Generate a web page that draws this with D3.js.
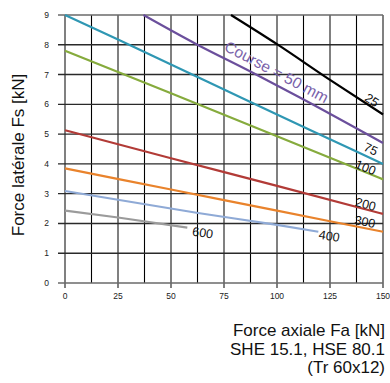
<!DOCTYPE html>
<html><head><meta charset="utf-8">
<script src="https://cdn.jsdelivr.net/npm/d3@7"></script>
<style>
html,body{margin:0;padding:0;background:#fff;}
svg{display:block;font-family:"Liberation Sans",Arial,sans-serif;}
</style></head>
<body><svg id="c" width="390" height="383"></svg>
<script>
// ---- data ----
const xTicks = [0, 25, 50, 75, 100, 125, 150];
const yTicks = [0, 1, 2, 3, 4, 5, 6, 7, 8, 9];
const strokes = ["25", "50", "75", "100", "200", "300", "400", "600"];
const colors = ["#000000", "#6b4f9c", "#2f97b3", "#86ab3d", "#b23b37", "#e9832c", "#8faad6", "#9b9b9b"];
const x25 = [78.3, 100, 125, 150],          y25 = [9, 8.02, 6.82, 5.66];
const x50 = [37, 62, 87, 111, 150],         y50 = [9, 8.02, 7.12, 6.22, 4.7];
const x75 = [0, 25, 50, 75, 100, 125, 150], y75 = [9, 8.18, 7.34, 6.5, 5.66, 4.83, 4.0];
const x100 = [0, 50, 100, 150],             y100 = [7.8, 6.37, 4.93, 3.48];
const x200 = [0, 50, 100, 150],             y200 = [5.13, 4.19, 3.26, 2.32];
const x300 = [0, 50, 100, 150],             y300 = [3.85, 3.14, 2.43, 1.72];
const x400 = [0, 62, 100, 119.5],           y400 = [3.09, 2.36, 1.95, 1.72];
const x600 = [0, 25, 57.7],                 y600 = [2.43, 2.2, 1.86];
const labelText = ["25", "Course = 50 mm", "75", "100", "200", "300", "400", "600"];
const labelX = [144.8, 99.8, 144.3, 141.8, 141.8, 141.5, 124.7, 65];
const labelY = [6.14, 7.09, 4.5, 3.88, 2.65, 2.06, 1.58, 1.69];
const xTitle = ["Force axiale Fa [kN]", "SHE 15.1, HSE 80.1", "(Tr 60x12)"];
const yTitle = "Force latérale Fs [kN]";

// ---- chart ----
const seriesX = [x25, x50, x75, x100, x200, x300, x400, x600];
const seriesY = [y25, y50, y75, y100, y200, y300, y400, y600];
const svg = d3.select("#c");
const x = d3.scaleLinear().domain([0, 150]).range([65, 383]);
const y = d3.scaleLinear().domain([0, 9]).range([283, 15]);

const g = svg.append("g");
// vertical grid
const vx = d3.range(0, 150.01, 12.5);
g.selectAll("line.v").data(vx).join("line")
  .attr("x1", d => x(d)).attr("x2", d => x(d))
  .attr("y1", y(9)).attr("y2", d => d % 25 === 0 ? y(0) + 5 : y(0))
  .attr("stroke", d => d % 25 === 0 ? "#808080" : "#000")
  .attr("stroke-width", d => d % 25 === 0 ? 2 : 1.1);
// horizontal grid
g.selectAll("line.h").data(yTicks).join("line")
  .attr("x1", x(0) - 7).attr("x2", x(150))
  .attr("y1", d => y(d)).attr("y2", d => y(d))
  .attr("stroke", d => (d === 0 || d === 9) ? "#6a6a6a" : "#2a2a2a")
  .attr("stroke-width", 1.4);

// tick labels
svg.selectAll("text.yt").data(yTicks).join("text")
  .attr("x", x(0) - 16).attr("y", d => y(d) + 3)
  .attr("text-anchor", "end").attr("font-size", 8.5).attr("fill", "#222")
  .text(d => d);
svg.selectAll("text.xt").data(xTicks).join("text")
  .attr("x", d => x(d)).attr("y", y(0) + 16)
  .attr("text-anchor", "middle").attr("font-size", 8.5).attr("fill", "#222")
  .text(d => d);

// series lines
const line = d3.line().x(d => x(d[0])).y(d => y(d[1])).curve(d3.curveMonotoneX);
strokes.forEach((s, i) => {
  const pts = seriesX[i].map((v, j) => [v, seriesY[i][j]]);
  svg.append("path").datum(pts).attr("d", line)
    .attr("fill", "none").attr("stroke", colors[i]).attr("stroke-width", 2.2);
});

// labels rotated along their curve
function slopeAngle(i, xv) {
  const xs = seriesX[i], ys = seriesY[i];
  let k = 0;
  while (k < xs.length - 2 && xv > xs[k + 1]) k++;
  const dx = x(xs[k + 1]) - x(xs[k]), dy = y(ys[k + 1]) - y(ys[k]);
  return Math.atan2(dy, dx) * 180 / Math.PI;
}
labelText.forEach((t, i) => {
  const px = x(labelX[i]), py = y(labelY[i]);
  const a = slopeAngle(i, labelX[i]);
  svg.append("text")
    .attr("transform", `translate(${px},${py}) rotate(${a})`)
    .attr("text-anchor", "middle").attr("dy", "0.35em")
    .attr("font-size", i === 1 ? 15.5 : 12.5)
    .attr("fill", i === 1 ? "#7a62aa" : "#111")
    .text(t);
});

// axis titles
svg.append("text")
  .attr("transform", `translate(24,${(y(0) + y(9)) / 2 + 6}) rotate(-90)`)
  .attr("text-anchor", "middle").attr("font-size", 17).attr("fill", "#111")
  .text(yTitle);
xTitle.forEach((t, i) => {
  svg.append("text").attr("x", 385).attr("y", 336 + i * 18.7)
    .attr("text-anchor", "end").attr("font-size", 17).attr("fill", "#111")
    .text(t);
});
</script></body></html>
